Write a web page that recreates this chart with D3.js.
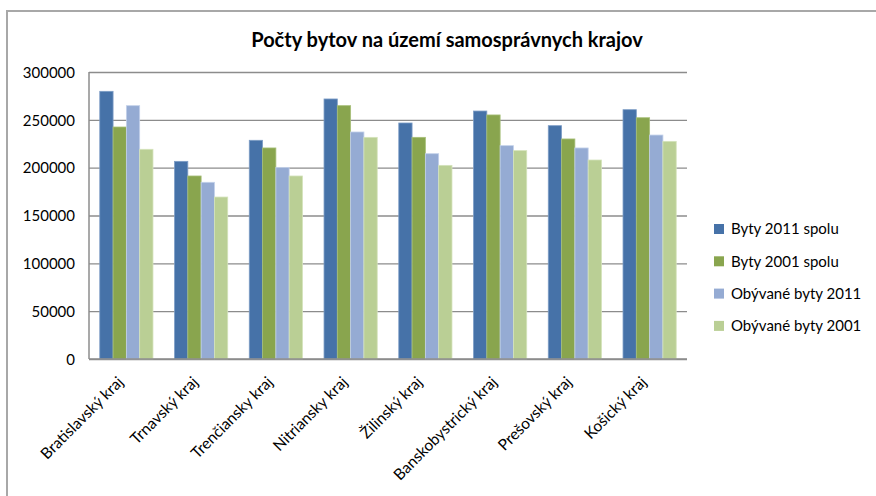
<!DOCTYPE html>
<html>
<head>
<meta charset="utf-8">
<script src="https://cdn.jsdelivr.net/npm/d3@7"></script>
<style>
  body { margin: 0; background: #fff; }
  text { font-family: Lato, "Open Sans", sans-serif; fill: #000; }
</style>
</head>
<body>
<div id="chartHolder"></div>
<script>
const regions = ["Bratislavský kraj", "Trnavský kraj", "Trenčiansky kraj", "Nitriansky kraj",
  "Žilinský kraj", "Banskobystrický kraj", "Prešovský kraj", "Košický kraj"];
const seriesNames = ["Byty 2011 spolu", "Byty 2001 spolu", "Obývané byty 2011", "Obývané byty 2001"];
const byty2011 = [279800, 206600, 228600, 271800, 246700, 259200, 243900, 260600];
const byty2001 = [242500, 191300, 220600, 264800, 231700, 255100, 230000, 252200];
const obyvane2011 = [264800, 184700, 200300, 237300, 214600, 223000, 220600, 234100];
const obyvane2001 = [219200, 169300, 191300, 231700, 202400, 217800, 208000, 227500];
const yTicks = [0, 50000, 100000, 150000, 200000, 250000, 300000];

function GetChart(){
    const width = 876;
    const height = 496;
    const left = 89, right = 687, top = 72, bottom = 359;
    const colors = ["#4672a8", "#89a54e", "#95abd3", "#bacf95"];
    const edges = ["#7d9dc6", "#a6bf78", "#c3d1ea", "#d4e3bb"];
    const values = [byty2011, byty2001, obyvane2011, obyvane2001];

    const svg = d3.select("#chartHolder")
        .append("svg")
        .attr("width", width)
        .attr("height", height);

    // chart frame
    svg.append("rect")
        .attr("x", 7).attr("y", 11)
        .attr("width", 900).attr("height", 520)
        .attr("fill", "none")
        .attr("stroke", "#a8a8a8")
        .attr("stroke-width", 2);

    // title
    svg.append("text")
        .attr("x", 447).attr("y", 47)
        .attr("text-anchor", "middle")
        .style("font-size", "20px")
        .style("font-weight", "bold")
        .text("Počty bytov na území samosprávnych krajov");

    const yScale = d3.scaleLinear().domain([0, 300000]).range([bottom, top]);
    const xScale = d3.scaleBand().domain(regions).range([left, right]);
    const inner = d3.scaleBand().domain(d3.range(4))
        .range([0, xScale.bandwidth()])
        .paddingInner(0).paddingOuter(0.81);

    // gridlines
    svg.append("g")
        .attr("class", "grid")
        .attr("transform", `translate(${left},0)`)
        .call(d3.axisLeft(yScale).tickValues(yTicks).tickSize(-(right - left)).tickFormat(""))
        .call(g => g.select(".domain").remove())
        .call(g => g.selectAll("line").attr("stroke", "#8c8c8c").attr("stroke-width", 1.3));

    // y axis labels
    svg.append("g")
        .attr("id", "y-axis")
        .attr("transform", `translate(${left},0)`)
        .call(d3.axisLeft(yScale).tickValues(yTicks).tickSize(0).tickPadding(14).tickFormat(d3.format("d")))
        .call(g => g.select(".domain").remove())
        .call(g => g.selectAll("text").style("font-size", "15px").attr("dy", "0.35em"));

    // bars
    const groups = svg.selectAll(".group")
        .data(regions)
        .enter()
        .append("g")
        .attr("class", "group")
        .attr("transform", d => `translate(${xScale(d)},0)`);

    groups.selectAll("rect")
        .data((d, i) => values.map((s, k) => ({k: k, v: s[i]})))
        .enter()
        .append("rect")
        .attr("x", d => inner(d.k))
        .attr("y", d => yScale(d.v))
        .attr("width", inner.bandwidth())
        .attr("height", d => yScale(0) - yScale(d.v))
        .attr("fill", d => colors[d.k])
        .attr("stroke", d => edges[d.k])
        .attr("stroke-width", 0.8);

    // axis lines
    svg.append("line")
        .attr("x1", left).attr("x2", left).attr("y1", top).attr("y2", bottom)
        .attr("stroke", "#8c8c8c").attr("stroke-width", 1.5);
    svg.append("line")
        .attr("x1", left).attr("x2", right).attr("y1", bottom).attr("y2", bottom)
        .attr("stroke", "#8c8c8c").attr("stroke-width", 1.5);

    // x labels
    svg.selectAll(".xlabel")
        .data(regions)
        .enter()
        .append("text")
        .attr("class", "xlabel")
        .attr("text-anchor", "end")
        .attr("transform", d => `translate(${xScale(d) + xScale.bandwidth() / 2 - 2},${bottom + 24}) rotate(-45)`)
        .style("font-size", "15.5px")
        .text(d => d);

    // legend
    const legend = svg.selectAll(".legend")
        .data(seriesNames)
        .enter()
        .append("g")
        .attr("class", "legend")
        .attr("transform", (d, i) => `translate(714,${229 + i * 32.3})`);
    legend.append("rect")
        .attr("x", 0).attr("y", -5)
        .attr("width", 10).attr("height", 10)
        .attr("fill", (d, i) => colors[i]);
    legend.append("text")
        .attr("x", 17).attr("dy", "0.35em")
        .style("font-size", "15px")
        .text(d => d);
}
GetChart();
</script>
</body>
</html>
